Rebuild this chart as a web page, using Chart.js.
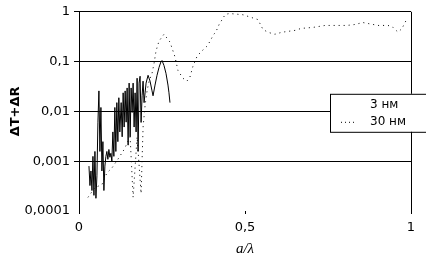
<!DOCTYPE html>
<html lang="ru">
<head>
    <meta charset="UTF-8">
    <title>ΔT+ΔR</title>
    <style>
        html, body { margin: 0; padding: 0; background: #fff; }
        #wrap { width: 426px; height: 261px; }
    </style>
    <script src="https://cdn.jsdelivr.net/npm/chart.js"></script>
</head>
<body>
    <div id="wrap"><canvas id="chart"></canvas></div>

    <script>
        // 3 нм (сплошная)
        const x3 = [0.030, 0.033, 0.036, 0.039, 0.042, 0.045, 0.048, 0.051, 0.054, 0.057,
                    0.060, 0.063, 0.066, 0.069, 0.072, 0.075, 0.078, 0.081, 0.084, 0.087,
                    0.090, 0.093, 0.096, 0.099, 0.102, 0.105, 0.108, 0.111, 0.114, 0.117,
                    0.120, 0.123, 0.127, 0.130, 0.133, 0.136, 0.139, 0.142, 0.145, 0.148,
                    0.151, 0.154, 0.157, 0.160, 0.163, 0.166, 0.169, 0.172, 0.175, 0.178,
                    0.181, 0.184, 0.187, 0.190, 0.193, 0.196, 0.199, 0.202, 0.208, 0.214,
                    0.220, 0.223, 0.229, 0.235, 0.241, 0.247, 0.250, 0.256, 0.262, 0.268,
                    0.271, 0.274];
        const y3 = [0.000798, 0.000324, 0.000637, 0.000258, 0.00125, 0.000206, 0.00157, 0.00018, 0.000508, 0.00608,
                    0.0258, 0.00157, 0.012, 0.000637, 0.00247, 0.000258, 0.000798, 0.00125, 0.00157, 0.00109,
                    0.00172, 0.0012, 0.00144, 0.001, 0.00387, 0.00125, 0.012, 0.00157, 0.015, 0.00247,
                    0.0188, 0.00387, 0.015, 0.00309, 0.0236, 0.00485, 0.0258, 0.00608, 0.0296, 0.0021,
                    0.037, 0.00309, 0.0296, 0.0095, 0.037, 0.00485, 0.0236, 0.00387, 0.0464, 0.00157,
                    0.037, 0.0508, 0.006, 0.0206, 0.0405, 0.015, 0.0236, 0.037, 0.0531, 0.0405,
                    0.0258, 0.0206, 0.0338, 0.0531, 0.0762, 0.1, 0.105, 0.0835, 0.0582, 0.0338,
                    0.0236, 0.015];

        // 30 нм (пунктир)
        const x30 = [0.027, 0.048, 0.069, 0.084, 0.099, 0.117, 0.136, 0.154, 0.163, 0.175,
                     0.187, 0.193, 0.199, 0.205, 0.211, 0.220, 0.226, 0.232, 0.241, 0.256,
                     0.274, 0.289, 0.298, 0.313, 0.325, 0.334, 0.343, 0.355, 0.367, 0.377,
                     0.386, 0.395, 0.404, 0.413, 0.422, 0.440, 0.449, 0.461, 0.494, 0.539,
                     0.554, 0.569, 0.590, 0.611, 0.630, 0.651, 0.669, 0.705, 0.741, 0.777,
                     0.807, 0.831, 0.855, 0.901, 0.931, 0.946, 0.961, 0.973, 0.988];
        const y30 = [0.000188, 0.000296, 0.000338, 0.000582, 0.000729, 0.00109, 0.00172, 0.00309, 0.000188, 0.00309,
                     0.000225, 0.00485, 0.0131, 0.0258, 0.0405, 0.0582, 0.0914, 0.164, 0.258, 0.354,
                     0.247, 0.125, 0.0666, 0.0464, 0.0405, 0.0486, 0.0798, 0.125, 0.157, 0.180,
                     0.206, 0.258, 0.338, 0.405, 0.556, 0.873, 0.914, 0.914, 0.873, 0.697,
                     0.444, 0.388, 0.354, 0.388, 0.405, 0.424, 0.464, 0.486, 0.532, 0.532,
                     0.532, 0.556, 0.609, 0.532, 0.532, 0.486, 0.388, 0.464, 0.729];

        const seriesNames = ['3 нм', '30 нм'];
        const yTicks = [0.0001, 0.001, 0.01, 0.1, 1];
        const yLabels = ['0,0001', '0,001', '0,01', '0,1', '1'];
        const xTicks = [0, 0.5, 1];
        const xLabels = ['0', '0,5', '1'];

        const toPoints = (xs, ys) => xs.map((x, i) => ({ x: x, y: ys[i] }));

        // легенда в рамке поверх графика
        const boxLegend = {
            id: 'boxLegend',
            afterDraw(chart) {
                const ctx = chart.ctx;
                const a = chart.chartArea;
                const left = a.right - 81;
                const top = a.top + 82;
                ctx.save();
                ctx.fillStyle = '#fff';
                ctx.fillRect(left, top, 120, 38);
                ctx.strokeStyle = '#000';
                ctx.lineWidth = 1;
                ctx.strokeRect(left + 0.5, top + 0.5, 120, 38);
                ctx.font = '12px "DejaVu Sans"';
                ctx.fillStyle = '#000';
                ctx.textBaseline = 'middle';
                ctx.fillText(seriesNames[0], left + 40, top + 11);
                ctx.fillText(seriesNames[1], left + 40, top + 28);
                ctx.setLineDash([1, 3]);
                ctx.beginPath();
                ctx.moveTo(left + 11, top + 28.5);
                ctx.lineTo(left + 27, top + 28.5);
                ctx.stroke();
                ctx.restore();
            }
        };

        new Chart(document.getElementById('chart'), {
            type: 'line',
            data: {
                datasets: [
                    {
                        label: seriesNames[0],
                        data: toPoints(x3, y3),
                        borderColor: '#000',
                        borderWidth: 1,
                        pointRadius: 0,
                        tension: 0
                    },
                    {
                        label: seriesNames[1],
                        data: toPoints(x30, y30),
                        borderColor: '#000',
                        borderWidth: 1,
                        borderDash: [1, 4],
                        pointRadius: 0,
                        tension: 0
                    }
                ]
            },
            options: {
                responsive: true,
                maintainAspectRatio: false,
                animation: false,
                layout: { padding: { top: 7, right: 15, left: 0, bottom: 0 } },
                plugins: {
                    legend: { display: false },
                    tooltip: { enabled: false }
                },
                scales: {
                    x: {
                        type: 'linear',
                        min: 0,
                        max: 1,
                        afterBuildTicks: s => { s.ticks = xTicks.map(v => ({ value: v })); },
                        afterFit: s => { s.height = 50; },
                        border: { display: false },
                        grid: {
                            color: c => c.tick && c.tick.value === 1 ? '#000' : 'rgba(0,0,0,0)',
                            tickColor: '#000',
                            tickLength: 3,
                            lineWidth: 1
                        },
                        ticks: {
                            color: '#000',
                            padding: 6,
                            maxRotation: 0,
                            font: { family: 'DejaVu Sans', size: 13 },
                            callback: (v) => xLabels[xTicks.indexOf(v)]
                        },
                        title: {
                            display: true,
                            text: 'a/λ',
                            color: '#000',
                            padding: { top: 0, bottom: 3 },
                            font: { family: 'Liberation Serif', size: 15, style: 'italic' }
                        }
                    },
                    y: {
                        type: 'logarithmic',
                        min: 0.0001,
                        max: 1,
                        afterBuildTicks: s => { s.ticks = yTicks.map(v => ({ value: v })); },
                        afterFit: s => { s.width = 79; },
                        border: { display: true, color: '#000', width: 1 },
                        grid: {
                            color: c => c.tick && c.tick.value > 0.0002 ? '#000' : 'rgba(0,0,0,0)',
                            tickColor: c => c.tick && c.tick.value > 0.0002 ? '#000' : 'rgba(0,0,0,0)',
                            tickLength: 5,
                            lineWidth: 1
                        },
                        ticks: {
                            color: '#000',
                            padding: 4,
                            font: { family: 'DejaVu Sans', size: 13 },
                            callback: (v) => yLabels[yTicks.indexOf(v)]
                        },
                        title: {
                            display: true,
                            text: 'ΔT+ΔR',
                            color: '#000',
                            padding: { top: 8, bottom: 0 },
                            font: { family: 'DejaVu Sans', size: 13, weight: 'bold' }
                        }
                    }
                }
            },
            plugins: [boxLegend]
        });
    </script>
</body>
</html>
